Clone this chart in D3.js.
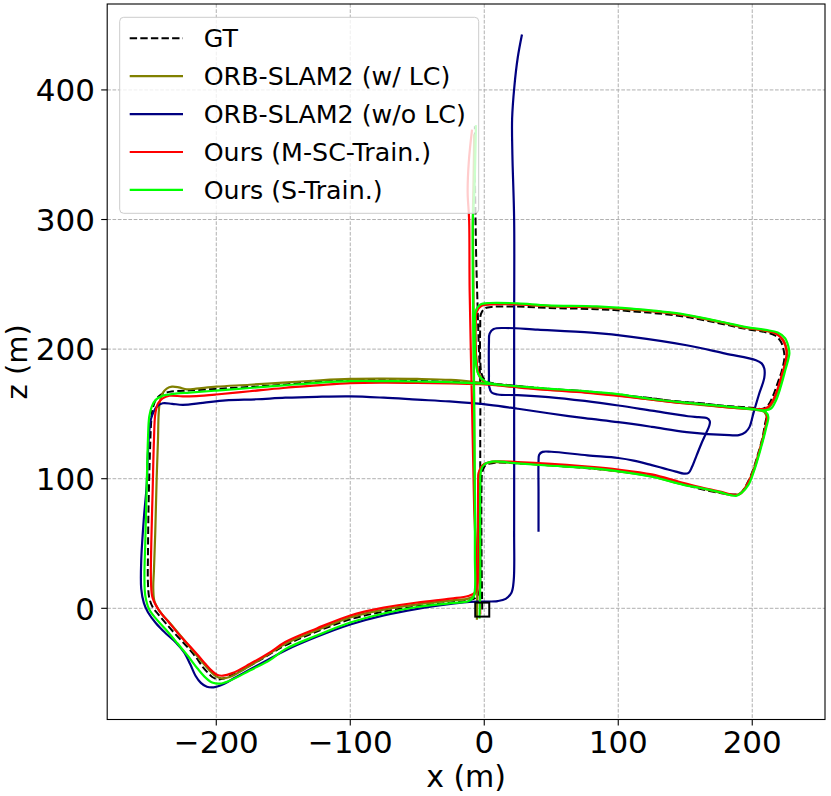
<!DOCTYPE html>
<html><head><meta charset="utf-8">
<script src="https://cdn.jsdelivr.net/npm/d3@7"></script>
<style>body{margin:0;background:#fff}svg{display:block}</style>
</head><body>
<svg id="c" width="831" height="796"></svg>
<script>
// ---- data: trajectories [x (m), z (m)] ----
const gtPath = [
[-1.5,-1],[-2,40],[-2,95],[-1.5,105],[1,110.5],[8,112.3],
[25,111.8],[50,110.3],[75,108.3],[100,105.8],[125,102],[146,96.5],[160,92.5],[176,89],[186,87.8],[190.5,88.3],
[193.5,91.5],[196,96],[200,105],[204,118],[207.5,131],[209.5,142],[210.5,148.5],
[208.5,152.5],[203,153.8],
[180,156],[160,158.5],[146,159.3],[125,162],[97,165.2],[75,167.5],[47,169.3],[25,171.5],[8,173.3],[1,175.5],
[-2,181],[-3,192],[-3,218],[-2.5,227],[0.5,231.5],[7,232.7],
[25,232.8],[47,231.8],[84,230.8],[110,229.2],[146,225.6],[175,220],[195.6,215.5],[210,213],[217,210.5],[221.5,205.5],[223.5,199],
[224,193],[222,183],[219,174],[215.5,164],[212,157],
[208,154],[202,154.5],
[180,156.2],[146,159.5],[125,162],[97,165.3],[75,167.5],[47,169.4],[25,171.6],[0,173.8],[-25,174.8],
[-50,175.5],[-75,176],[-100,176.2],[-125,175],[-151,172.5],[-175,170.8],[-200,169.3],[-222,168],[-235,167],[-241,165],[-245,161],[-247.5,154],
[-248.5,145],[-249.5,120],[-250.5,80],[-251,40],[-251,20],[-250,8],[-247.5,1],
[-243,-5],[-237.6,-11.6],[-230,-20.5],[-221.5,-30],[-215,-38],[-210,-45.4],[-206,-50],[-203,-53],[-199,-54.8],[-195.5,-54.4],[-185.6,-50.3],[-170,-41.5],[-148.5,-28.6],[-125,-18],[-100,-8.5],[-75,-2.5],[-50,1.5],[-25,4.5],[-12,6],[-6,8.5],
[-3.5,14],[-3,30],[-3,80],[-3,130],[-3,174],[-4,200],[-5,234],[-6,270],[-6.5,300],[-7,340],[-7,372]
];

const olivePath = [
[-5.5,-8],[-5,30],[-4.5,95],[-4,105],[-1,110.5],[6,112.7],
[25,112],[47,110.5],[75,108.5],[97,106],[125,101.8],[146,96.2],[160,93],[176,89.3],[185,87.3],[189.5,87.8],
[193,90.5],[196.5,96],[200.5,105.5],[205,120],[209,136],[211,146],
[209,151.5],[203,153],
[180,155.2],[146,158.5],[125,161],[97,164.6],[75,166.8],[47,168.8],[25,170.8],[8,172.5],[0,174.8],
[-4.5,181],[-6,193],[-6.5,220],[-6,229],[-2.5,233.7],[4,234.8],
[25,234.6],[47,233.2],[84,232.2],[110,230.5],[146,226.8],[175,221],[195.6,216.3],[210,214],[218,211.8],[223,207.5],[225.5,201],
[226,195],[223.5,184],[220,171],[216,160],[212,154.5],
[207,153],[201,153.5],
[180,155.4],[146,158.7],[125,161.1],[97,164.7],[75,166.9],[47,168.8],[25,171],[0,173.8],[-25,176.2],
[-50,177],[-75,177.2],[-100,177],[-125,175.8],[-150,174.2],[-175,172.5],[-200,171],[-215,169.5],[-222,169],[-228,170.5],[-233,171],[-237,169.5],[-240,166],[-242,160],[-243,150],
[-243.5,130],[-244.5,100],[-245.5,60],[-246.5,30],[-247,15],[-246,5],
[-241,-4],[-234,-12],[-226,-22],[-218,-32],[-210,-42],[-204,-49],[-200,-52.5],[-196,-54],[-190,-53],[-180,-47.5],[-165,-38],[-148.5,-27.5],[-125,-17],[-100,-7],[-75,-1],[-50,3],[-25,6],[-12,7.5],[-7.5,10],
[-6.5,16],[-6.5,40],[-7,80],[-7.5,150],[-8,245],[-8.5,300],[-8,330],[-7.5,365]
];

const bluePath = [
[40.5,60],[40.5,90],[40.5,113],[41,118.5],[43.5,120.7],[50,120.8],[77,118],[100,116],[111.5,114],[125,110.5],[134,108],[143,105.5],[149,104],[152.5,104.5],
[155,109],[158.5,118],[162,127],[165.5,135],[168,141],[168.3,144.5],
[166,146.8],[160,147.5],
[152,148.2],[125,152.5],[100,156.5],[75,160],[48,163],[25,164.5],[10,165],[5.5,166.5],[3.7,171],
[3.5,180],[3.5,205],[4,212],[7,215.5],[15,216.3],[40,215],[80,212.7],[110,209.5],[151,203],[180,196.5],[202.8,191.4],[207,189],[209,185],
[209,178],[205,165],[201,151],[198,140],[195,136],[190,133.6],[183,133.6],
[151,136],[125,140],[100,143.6],[75,146.7],[48,150.5],[25,154],[3.7,157],[-26,159.6],
[-50,161],[-75,162.5],[-100,163.5],[-125,163.2],[-148.5,162.5],[-170,161.3],[-193,160.4],[-210,158.5],[-225,157],[-233,157.8],[-240,158.2],[-244,156],[-247,151],
[-249,145],[-251,120],[-252,94],[-254,70],[-256,37],[-256,15],[-254,4],[-251,-3],
[-245,-11.5],[-238,-19],[-230,-26.5],[-224,-34],[-219.5,-43],[-215.5,-52],[-211.5,-57.5],[-207,-60.5],[-202,-61],[-197,-59.6],[-185,-53],[-162,-40],[-148.5,-32.5],[-125,-22],[-100,-12.5],[-75,-5.5],[-50,-0.5],[-25,3.3],[-11,5],[0,5.2],[10,5.6],
[16,7.3],[20.3,12],[22,21.7],[22.3,60],[22.3,150],[22.3,220],[22.3,300],[21,350],[20.8,378],[22.5,403],[25,425],[28,442]
];

const redPath = [
[-3,-4],[-4,40],[-4.5,95],[-4,105],[-1,110.5],[6,113.2],
[25,112.8],[50,111.5],[75,109.5],[100,107],[125,103.3],[146,97.5],[160,93.8],[176,90],[186,87.5],[190.5,88],
[194,91.5],[197,97],[201,106],[205,120],[208.5,133],[210.5,143],[211,149],
[209,152.8],[203,153.5],
[180,155.3],[160,157.5],[146,158.5],[125,161],[97,164.3],[75,166.5],[47,168.5],[25,170.5],[8,172.5],[0,175],
[-4,181],[-6,193],[-6.5,220],[-5.5,229],[-2,233.5],[5,234.5],
[25,234.5],[47,233.3],[84,232.3],[110,230.8],[146,226.8],[175,221.3],[195.6,216.5],[210,214.3],[218,211.8],[223,206.5],[225.5,199],
[225,191],[222,180],[218.5,168],[214,158],[209.5,154],
[203,153.8],
[180,155.5],[146,158.8],[125,161.2],[97,164.5],[75,166.7],[47,168.6],[25,170.8],[0,172.8],[-25,173.5],
[-50,174],[-75,174.2],[-100,173.8],[-125,172],[-150,170],[-175,167.5],[-200,165],[-215,163.8],[-225,163.5],[-235,164],[-240,162],[-243.5,158],[-245.5,150],
[-246.5,130],[-247.5,90],[-248.5,50],[-248.7,20],[-247.5,8],
[-242.5,-2],[-236,-10],[-228,-20],[-219,-30],[-213,-37],[-208,-43],[-203,-48.5],[-199,-51.5],[-195,-52],[-188,-50],[-175,-43],[-160,-34],[-148.5,-26],[-125,-15.5],[-100,-5.5],[-75,0.5],[-50,4.5],[-25,7.5],[-12,9.5],[-7,12],
[-5.5,18],[-6,40],[-7.5,76],[-9,150],[-10.9,245],[-11.3,300],[-12.4,321],[-11.5,345],[-9.2,368.5]
];

const greenPath = [
[-3.5,-7],[-3,20],[-3,95],[-2.5,106],[0,111],[6,113.2],
[25,111.8],[47,110.2],[75,108.5],[96.7,106.3],[125,101.5],[146,96],[152,94.5],[160,93.2],[175.7,89.6],[184,87.3],[188,86.8],
[192,89],[197,95],[201,105],[206,122],[210.5,139.8],[212,147.5],
[210,151.5],[204,153.2],
[180,155.8],[145.8,159.1],[125,161.5],[96.7,165.6],[75,167.6],[47,169.5],[25,171.3],[8,173],[0,175.5],
[-4.5,181],[-6.5,193],[-7,220],[-6.5,229],[-3,234.3],[4,235.6],
[25,235.3],[47,233.8],[84,233],[110,231.2],[146,227.4],[175,221.5],[195.6,217],[210,214.8],[219,212.8],[224.5,208.5],[227,202],
[227.7,196.5],[225,185],[221,170],[217.7,160.4],[214,154],
[209,152.8],[203,153.3],
[180,155.8],[145.8,159.1],[125,161.5],[96.7,165.6],[75,167.6],[47,169.5],[25,171.3],[0,173.3],[-27,174.6],
[-50,175],[-75,175.3],[-100,175.3],[-125,174],[-150,172],[-175,170],[-200,168],[-220,166.5],[-232,165.5],[-240,164],[-245,161],[-248,156],[-250,148],
[-251,130],[-252,90],[-253,50],[-253.6,25],[-253,10],
[-250,-1],[-245,-8],[-238,-16],[-229,-27],[-221,-37],[-214,-46.5],[-208,-53.5],[-202.5,-57.5],[-196,-58],[-188,-55],[-175,-48],[-160,-40],[-148.5,-31.5],[-125,-21],[-100,-11],[-75,-4],[-50,1],[-25,4],[-12,5.5],[-8.5,8],
[-7,14],[-7,40],[-7,80],[-7.5,150],[-8.5,245],[-8.5,300],[-7.4,321],[-6.2,372]
];

const startPoint = [[-1.5,-1]];
const xTicks = [-200,-100,0,100,200];
const yTicks = [0,100,200,300,400];
const seriesLabels = ["GT","ORB-SLAM2 (w/ LC)","ORB-SLAM2 (w/o LC)","Ours (M-SC-Train.)","Ours (S-Train.)"];
const seriesColors = ["#000000","#808000","#000080","#ff0000","#00ff00"];
const xLabel = "x (m)", yLabel = "z (m)";

// ---- drawing ----
const svg = d3.select("#c");
const m = {l:107.2, r:825, t:4, b:719.5};
const x = d3.scaleLinear().domain([-281.4,254.3]).range([m.l,m.r]);
const y = d3.scaleLinear().domain([-85.8,466.3]).range([m.b,m.t]);
const FONT = "DejaVu Sans, sans-serif";

svg.append("rect").attr("width",831).attr("height",796).attr("fill","#fff");

// grid
const g = svg.append("g");
g.selectAll("line.gx").data(xTicks).join("line")
  .attr("x1",d=>x(d)).attr("x2",d=>x(d)).attr("y1",m.t).attr("y2",m.b)
  .attr("stroke","#b0b0b0").attr("stroke-width",1).attr("stroke-dasharray","3.7,1.6");
g.selectAll("line.gy").data(yTicks).join("line")
  .attr("y1",d=>y(d)).attr("y2",d=>y(d)).attr("x1",m.l).attr("x2",m.r)
  .attr("stroke","#b0b0b0").attr("stroke-width",1).attr("stroke-dasharray","3.7,1.6");

svg.append("clipPath").attr("id","clip").append("rect")
  .attr("x",m.l).attr("y",m.t).attr("width",m.r-m.l).attr("height",m.b-m.t);

const line = d3.line().x(d=>x(d[0])).y(d=>y(d[1])).curve(d3.curveCatmullRom.alpha(0.5));
const paths = [gtPath, olivePath, bluePath, redPath, greenPath];
const pg = svg.append("g").attr("clip-path","url(#clip)");
paths.forEach((p,i)=>{
  pg.append("path").attr("d",line(p)).attr("fill","none")
    .attr("stroke",seriesColors[i]).attr("stroke-width", i===0?2:2.2)
    .attr("stroke-linejoin","round").attr("stroke-linecap", i===0?"butt":"square")
    .attr("stroke-dasharray", i===0?"7.4,3.2":null);
});
// start marker
pg.selectAll("rect.st").data(startPoint).join("rect")
  .attr("x",d=>x(d[0])-7).attr("y",d=>y(d[1])-7).attr("width",14).attr("height",14)
  .attr("fill","none").attr("stroke","#000").attr("stroke-width",2);

// frame
svg.append("rect").attr("x",m.l).attr("y",m.t).attr("width",m.r-m.l).attr("height",m.b-m.t)
  .attr("fill","none").attr("stroke","#000").attr("stroke-width",1.1);

// axes ticks
const fmt = d => (d<0? "\u2212"+Math.abs(d) : String(d));
const ax = svg.append("g");
ax.selectAll("line.tx").data(xTicks).join("line")
  .attr("x1",d=>x(d)).attr("x2",d=>x(d)).attr("y1",m.b).attr("y2",m.b+6).attr("stroke","#000").attr("stroke-width",1.1);
ax.selectAll("text.tx").data(xTicks).join("text")
  .attr("x",d=>x(d)).attr("y",752.8).attr("text-anchor","middle")
  .attr("font-family",FONT).attr("font-size",31).attr("fill","#000").text(fmt);
ax.selectAll("line.ty").data(yTicks).join("line")
  .attr("y1",d=>y(d)).attr("y2",d=>y(d)).attr("x1",m.l-6).attr("x2",m.l).attr("stroke","#000").attr("stroke-width",1.1);
ax.selectAll("text.ty").data(yTicks).join("text")
  .attr("x",95).attr("y",d=>y(d)+11.3).attr("text-anchor","end")
  .attr("font-family",FONT).attr("font-size",31).attr("fill","#000").text(fmt);

svg.append("text").attr("x",(m.l+m.r)/2).attr("y",787).attr("text-anchor","middle")
  .attr("font-family",FONT).attr("font-size",30).attr("fill","#000").text(xLabel);
svg.append("text").attr("transform",`translate(26.5,${(m.t+m.b)/2}) rotate(-90)`).attr("text-anchor","middle")
  .attr("font-family",FONT).attr("font-size",29).attr("fill","#000").text(yLabel);

// legend
const lg = svg.append("g");
lg.append("rect").attr("x",119.7).attr("y",17.3).attr("width",359).attr("height",196).attr("rx",4)
  .attr("fill","#fff").attr("fill-opacity",0.8).attr("stroke","#cccccc").attr("stroke-width",1);
seriesLabels.forEach((lab,i)=>{
  const yy = 38.3 + i*37.9;
  lg.append("line").attr("x1",129.7).attr("x2",183).attr("y1",yy).attr("y2",yy)
    .attr("stroke",seriesColors[i]).attr("stroke-width", i===0?2:2.2)
    .attr("stroke-dasharray", i===0?"7.4,3.2":null);
  lg.append("text").attr("x",203.7).attr("y",yy+9).attr("font-family",FONT).attr("font-size",25.3)
    .attr("fill","#000").text(lab);
});
</script>
</body></html>
